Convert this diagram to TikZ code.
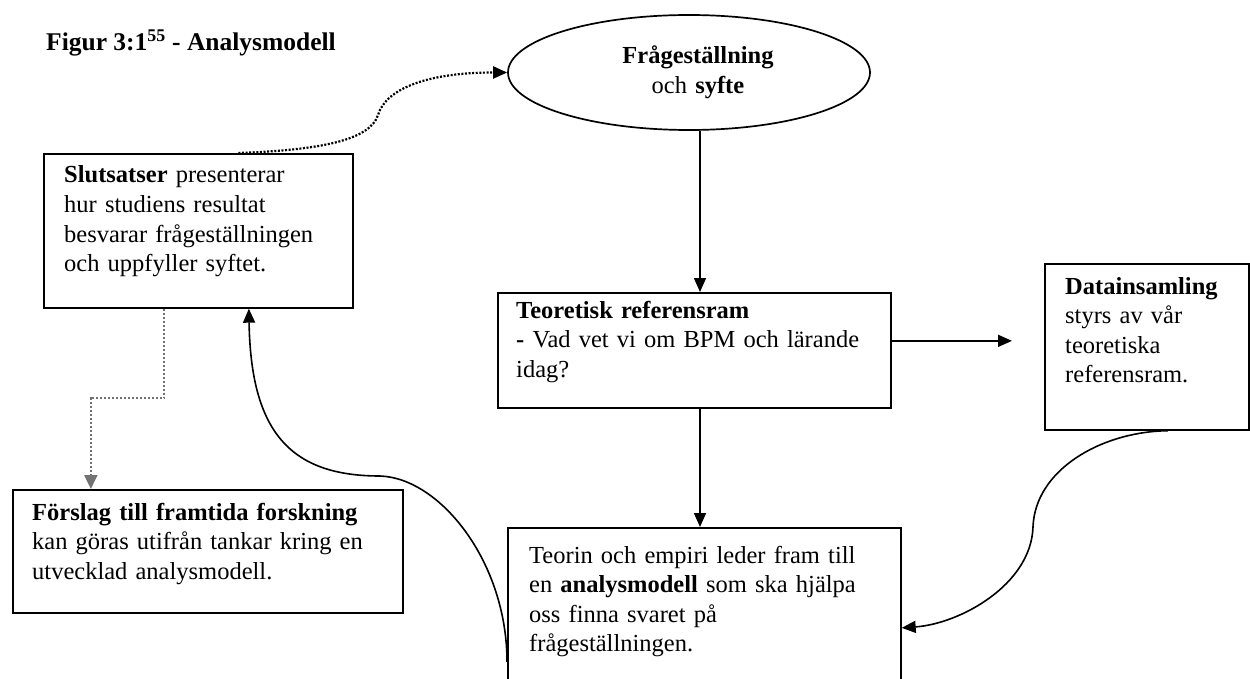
\documentclass[tikz,border=0pt]{standalone}
\usepackage{fontspec}
\setmainfont{Liberation Serif}
\usetikzlibrary{arrows.meta,calc,shapes.geometric}

\newcommand\bodyfont{\fontsize{24.5pt}{29.5pt}\selectfont}

\tikzset{
  box/.style={draw, line width=1.7pt, rectangle, anchor=north west, inner sep=0pt},
  oval/.style={draw, line width=1.7pt, ellipse, inner sep=0pt},
  txt/.style={anchor=base west, inner sep=0pt, align=left, font=\bodyfont},
  tip/.style={-{Triangle[length=14pt,width=12pt]}},
  conn/.style={line width=1.6pt, tip},
  dotconn/.style={line width=2.2pt, dash pattern=on 2pt off 1.6pt, tip},
  greyconn/.style={line width=2.2pt, draw=black!55, dash pattern=on 2pt off 2pt,
    -{Triangle[length=14pt,width=13pt]}},
}

\begin{document}
\begin{tikzpicture}[x=1pt, y=-1pt]
\useasboundingbox (0,0) rectangle (1250,679);

% title
\node[txt, font=\fontsize{25.5pt}{30pt}\selectfont\bfseries] (title) at (46,51)
  {Figur 3:1\textsuperscript{55} - Analysmodell};

% research question
\node[oval, minimum width=362pt, minimum height=115pt] (ell) at (689,72.5) {};
\node[anchor=base, inner sep=0pt, align=center, text width=300pt, font=\bodyfont]
  (ell-t) at (698,64) {\textbf{Frågeställning}\\ och \textbf{syfte}};

% conclusions
\node[box, minimum width=309pt, minimum height=154pt] (slut) at (43,153) {};
\node[txt, text width=280pt] (slut-t) at (64,183)
  {\textbf{Slutsatser} presenterar\\ hur studiens resultat\\ besvarar frågeställningen\\ och uppfyller syftet.};

% theoretical framework
\node[box, minimum width=393pt, minimum height=115pt] (teo) at (497,292) {};
\node[txt, text width=370pt] (teo-t) at (516,318)
  {\textbf{Teoretisk referensram}\\ \textbf{-} Vad vet vi om BPM och lärande\\ idag?};

% data collection
\node[box, minimum width=204pt, minimum height=166pt] (data) at (1044,263) {};
\node[txt, text width=180pt] (data-t) at (1065,294)
  {\textbf{Datainsamling}\\ styrs av vår\\ teoretiska\\ referensram.};

% future research
\node[box, minimum width=390pt, minimum height=123pt] (fors) at (12,489) {};
\node[txt, text width=370pt] (fors-t) at (32,520)
  {\textbf{Förslag till framtida forskning}\\ kan göras utifrån tankar kring en\\ utvecklad analysmodell.};

% analysis model
\node[box, minimum width=393pt, minimum height=165pt] (bot) at (507,527) {};
\node[txt, text width=370pt] (bot-t) at (529,563)
  {Teorin och empiri leder fram till\\ en \textbf{analysmodell} som ska hjälpa\\ oss finna svaret på\\ frågeställningen.};

% helper points
\coordinate (ax) at (700,0);
\coordinate (dmid) at (378,115);
\coordinate (rmid) at (1033,527);
\coordinate (lmid) at (380,476);
\coordinate (gbend) at (90,398);

% straight arrows
\draw[conn] (ax |- ell.south) -- (ax |- teo.north);
\draw[conn] (ax |- teo.south) -- (ax |- bot.north);
\draw[conn] ([yshift=9.5pt]teo.east) -- ($([yshift=9.5pt]teo.east -| data.west)+(-32,0)$);

% conclusions back to the research question
\draw[dotconn] ([xshift=40pt]slut.north)
  .. controls +(83,-3) and +(-8,25) .. (dmid)
  .. controls +(8,-27) and +(-78,0) .. (ell.west);

% conclusions to future research
\draw[greyconn] ([xshift=-34pt]slut.south) |- (gbend) -| ([xshift=-117pt]fors.north);

% data collection into the analysis model
\draw[conn] ([xshift=21pt]data.south)
  .. controls +(-67,1) and +(2,-57) .. (rmid)
  .. controls +(-2,58) and +(58,-4) .. ([yshift=-17.5pt]bot.east);

% analysis model back to the conclusions
\draw[conn] ([yshift=-51.5pt]bot.west)
  .. controls +(0,-100) and +(60,2) .. (lmid)
  .. controls +(-90,0) and +(2,123) .. ([xshift=50.5pt]slut.south);
\end{tikzpicture}
\end{document}
